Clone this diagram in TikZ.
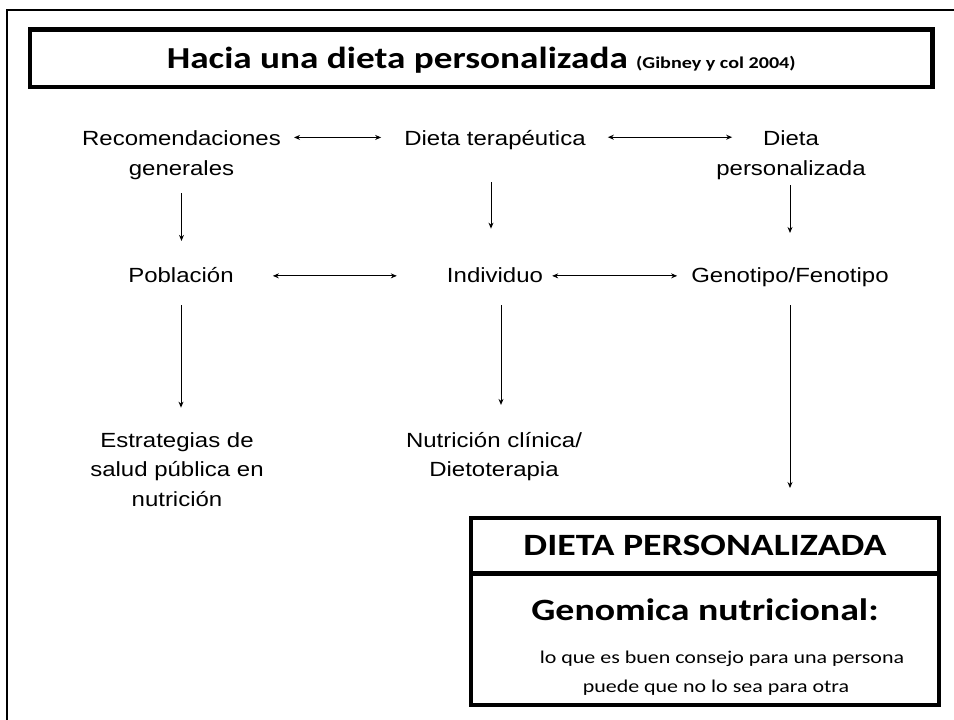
\documentclass[tikz,border=0pt]{standalone}
\usepackage{fontspec}
\setmainfont{Liberation Sans}[FakeStretch=1.17]
\newfontfamily\calib{Carlito}[FakeStretch=1.22]
\usetikzlibrary{arrows.meta}

\begin{document}
\begin{tikzpicture}[x=1pt,y=-1pt,
  lbl/.style={font=\fontsize{20.5}{29.5}\selectfont, align=center, inner sep=0pt, anchor=base},
  link/.style={line width=0.9pt},
  framebox/.style={draw, line width=4.5pt, inner sep=0pt, outer sep=0pt},
  >={Stealth[length=6pt,width=5pt]}]
  \useasboundingbox (0,0) rectangle (954,720);
  % slide frame, cut off at right and bottom
  \draw[line width=2pt] (954,10) -- (7,10) -- (7,720);
  % title
  \node[framebox, minimum width=902.5pt, minimum height=57.5pt, text depth=0pt,
        font=\calib\bfseries\fontsize{30.5}{31}\selectfont] (title) at (481.25,58.25)
        {Hacia una dieta personalizada {\fontsize{16.5}{17}\selectfont (Gibney y col 2004)}};
  % three columns (multi-line nodes sit on their last line)
  \node[lbl] (recom) at (181.5,175)   {Recomendaciones\\generales};
  \node[lbl] (dter)  at (495,145.5)   {Dieta terapéutica};
  \node[lbl] (dpers) at (791,175)     {Dieta\\personalizada};
  \node[lbl] (pob)   at (181,282)     {Población};
  \node[lbl] (ind)   at (495,282)     {Individuo};
  \node[lbl] (geno)  at (790,282)     {Genotipo/Fenotipo};
  \node[lbl] (est)   at (177,506)     {Estrategias de\\salud pública en\\nutrición};
  \node[lbl] (nut)   at (494,476.5)   {Nutrición clínica/\\Dietoterapia};
  % result box
  \node[framebox, anchor=north, minimum width=468pt, minimum height=55.5pt, text depth=0pt,
        font=\calib\bfseries\fontsize{31}{31}\selectfont] (dphead) at (705,518) {DIETA PERSONALIZADA};
  \node[framebox, anchor=north, minimum width=468pt, minimum height=131.5pt, align=center,
        text height=105.5pt, text depth=0pt, font=\calib\fontsize{18}{29}\selectfont] (dpbody) at (dphead.south)
        {{\bfseries\fontsize{31}{31}\selectfont Genomica nutricional:}\\[14pt]
         \hspace*{34pt}lo que es buen consejo para una persona\\\hspace*{22pt}puede que no lo sea para otra};
  % horizontal links
  \draw[link,<->,shorten <=13pt,shorten >=23pt] ([yshift=-7pt]recom.north east) -- ([yshift=-7pt]recom.north east -| dter.west);
  \draw[link,<->,shorten <=22pt,shorten >=-16pt] ([yshift=-7pt]dter.north east) -- ([yshift=-7pt]dter.north east -| dpers.west);
  \draw[link,<->,shorten <=39pt,shorten >=50pt] ([yshift=3.5pt]pob.mid east) -- ([yshift=3.5pt]pob.mid east -| ind.west);
  \draw[link,<->,shorten <=9pt,shorten >=14pt] ([yshift=3.5pt]ind.mid east) -- ([yshift=3.5pt]ind.mid east -| geno.west);
  % vertical links
  \draw[link,->,shorten <=13.7pt,shorten >=25.8pt] (recom.south) -- (recom.south |- pob.north);
  \draw[link,->,shorten <=32.2pt,shorten >=38.3pt] ([xshift=-4pt]dter.south) -- ([xshift=-4pt]dter.south |- ind.north);
  \draw[link,->,shorten <=5.7pt,shorten >=34pt] (geno.north |- dpers.south) -- (geno.north);
  \draw[link,->,shorten <=23pt,shorten >=24.3pt] (pob.south) -- (pob.south |- est.north);
  \draw[link,->,shorten <=23pt,shorten >=26.8pt] ([xshift=6pt]ind.south) -- ([xshift=6pt]ind.south |- nut.north);
  \draw[link,->,shorten <=18.7pt,shorten >=30pt] (geno.south) -- (geno.south |- dphead.north);
\end{tikzpicture}
\end{document}
